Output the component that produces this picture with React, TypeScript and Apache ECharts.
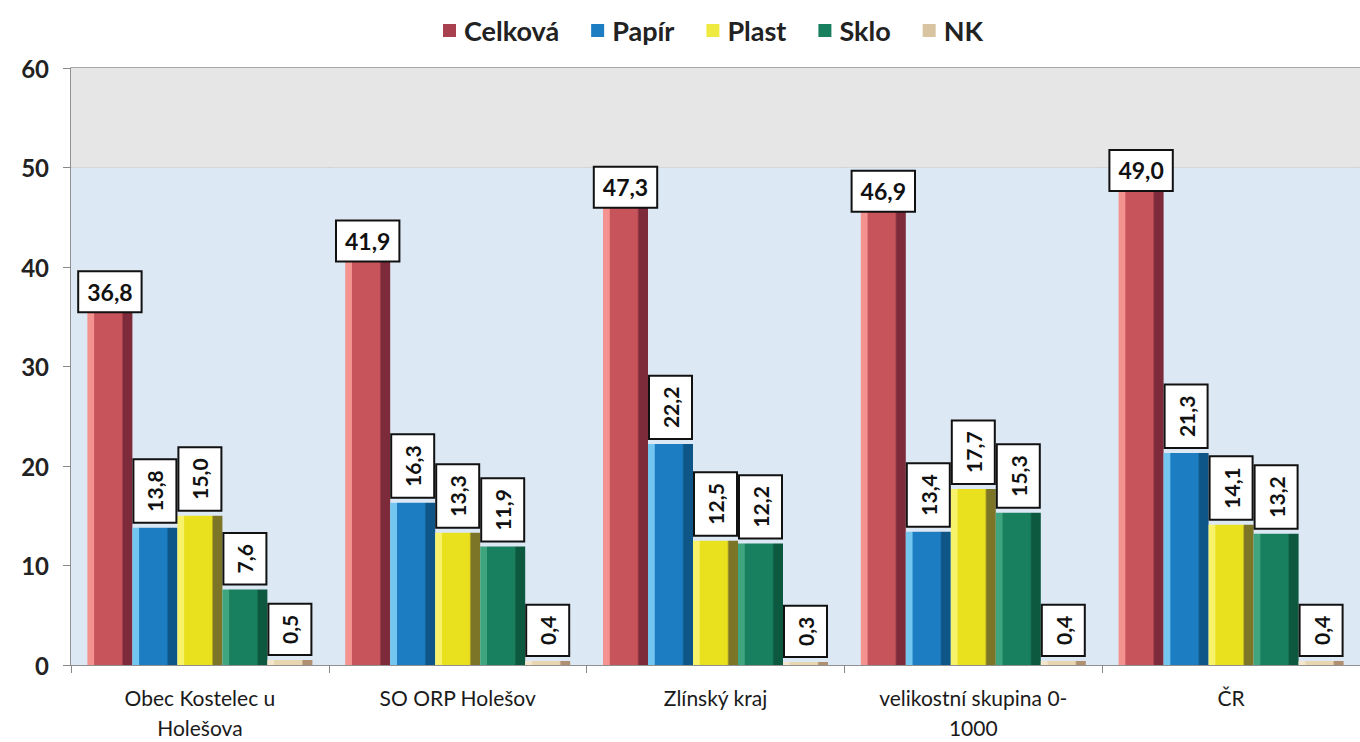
import React, { useEffect, useRef } from "react";
import * as echarts from "echarts";

const categories = ["Obec Kostelec u\nHolešova", "SO ORP Holešov", "Zlínský kraj", "velikostní skupina 0-\n1000", "ČR"];
const seriesNames = ["Celková", "Papír", "Plast", "Sklo", "NK"];
const celkova = [36.8, 41.9, 47.3, 46.9, 49.0];
const papir = [13.8, 16.3, 22.2, 13.4, 21.3];
const plast = [15.0, 13.3, 12.5, 17.7, 14.1];
const sklo = [7.6, 11.9, 12.2, 15.3, 13.2];
const nk = [0.5, 0.4, 0.3, 0.4, 0.4];
const yTicks = { min: 0, max: 60, interval: 10 };

const palettes = [
  { light: "#f3928e", mid: "#c7545b", dark: "#7d2b3a", legend: "#a84050" },
  { light: "#72c6f0", mid: "#1c7dc2", dark: "#0e5687", legend: "#1c7dc2" },
  { light: "#f8f26a", mid: "#e9e01e", dark: "#7c7426", legend: "#eeea40" },
  { light: "#3ea57e", mid: "#18805e", dark: "#0d5940", legend: "#18805e" },
  { light: "#f3e6cc", mid: "#e8d6b0", dark: "#b09070", legend: "#d8c4a0" },
];

function grad(p: any) {
  return new echarts.graphic.LinearGradient(0, 0, 1, 0, [
    { offset: 0, color: p.light },
    { offset: 0.14, color: p.light },
    { offset: 0.16, color: p.mid },
    { offset: 0.76, color: p.mid },
    { offset: 0.8, color: p.dark },
    { offset: 1, color: p.dark },
  ]);
}

const fmt = (v: number) => v.toFixed(1).replace(".", ",");
const FONT = "Lato, 'Open Sans', sans-serif";

export default function App() {
  const ref = useRef<HTMLDivElement>(null);
  useEffect(() => {
    document.body.style.margin = "0";
    const chart = echarts.init(ref.current!, null, { renderer: "svg" });
    const data = [celkova, papir, plast, sklo, nk];
    const series: any[] = data.map((d, i) => {
      const horizontal = i === 0;
      return {
        name: seriesNames[i],
        type: "bar",
        data: d,
        barWidth: 45,
        barGap: "0%",
        itemStyle: { color: grad(palettes[i]) },
        label: {
          show: true,
          position: "top",
          distance: horizontal ? 7 : 6,
          rotate: horizontal ? 0 : 90,
          align: horizontal ? "center" : "left",
          verticalAlign: "middle",
          formatter: (p: any) => fmt(p.value),
          fontFamily: FONT,
          fontWeight: "bold",
          fontSize: horizontal ? 23 : 21,
          color: "#111",
          backgroundColor: "#fff",
          borderColor: "#111",
          borderWidth: 2,
          padding: horizontal ? [9, 8, 7, 8] : [10, 10, 10, 10],
        },
      };
    });
    series[0].markArea = {
      silent: true,
      itemStyle: { color: "#dde8f5" },
      data: [[{ yAxis: 0 }, { yAxis: 50 }]],
    };
    series[1].markArea = {
      silent: true,
      itemStyle: { color: "#e6e6e6" },
      data: [[{ yAxis: 50 }, { yAxis: 60 }]],
    };
    chart.setOption({
      animation: false,
      backgroundColor: "#fff",
      legend: {
        top: 12,
        left: 438,
        itemWidth: 13,
        itemHeight: 13,
        itemGap: 32,
        icon: "rect",
        textStyle: {
          fontFamily: FONT,
          fontWeight: "bold",
          fontSize: 27,
          color: "#222",
          padding: [0, 0, 0, 3],
        },
        data: seriesNames.map((n, i) => ({ name: n, itemStyle: { color: palettes[i].legend } })),
      },
      grid: { left: 71, right: 0, top: 68, bottom: 74 },
      xAxis: {
        type: "category",
        data: categories,
        axisLine: { show: true, lineStyle: { color: "#888", width: 1.5 } },
        axisTick: { show: true, length: 8, lineStyle: { color: "#888" } },
        splitLine: { show: true, lineStyle: { color: "#8a8a8a", width: 1.5 } },
        axisLabel: {
          fontFamily: FONT,
          fontSize: 21,
          color: "#1a1a1a",
          lineHeight: 30,
          margin: 17,
        },
      },
      yAxis: {
        type: "value",
        min: yTicks.min,
        max: yTicks.max,
        interval: yTicks.interval,
        axisLine: { show: true, lineStyle: { color: "#888", width: 1.5 } },
        axisTick: { show: true, length: 8, lineStyle: { color: "#888" } },
        splitLine: { show: true, lineStyle: { color: "#8a8a8a", width: 1.5 } },
        axisLabel: {
          fontFamily: FONT,
          fontWeight: "bold",
          fontSize: 24,
          color: "#222",
          margin: 22,
        },
      },
      series,
    });
    return () => chart.dispose();
  }, []);
  return <div ref={ref} style={{ width: 1360, height: 742 }} />;
}
